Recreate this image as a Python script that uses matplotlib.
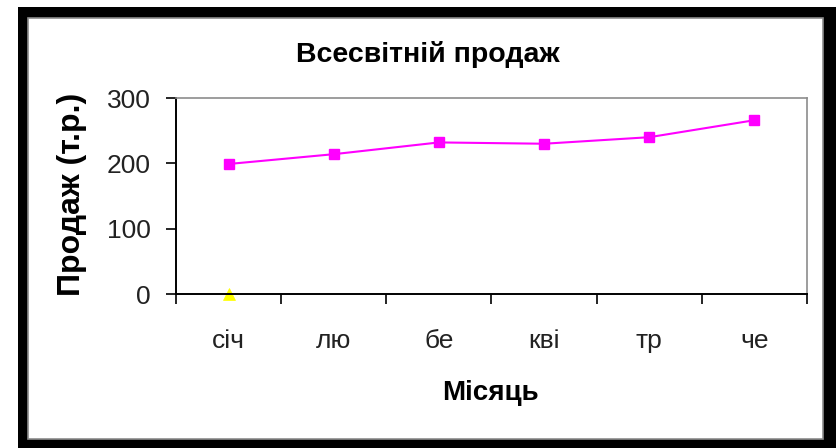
import matplotlib.pyplot as plt
from matplotlib.patches import Rectangle
from matplotlib.ticker import FixedLocator, NullFormatter
import numpy as np

plt.rcParams['font.family'] = ['Liberation Sans', 'DejaVu Sans']

# дані
months = ['січ', 'лю', 'бе', 'кві', 'тр', 'че']
sales = [199, 214, 232, 230, 240, 266]
zero_series = [0]

fig = plt.figure(figsize=(8.36, 4.48), dpi=100)
fig.patch.set_facecolor('white')

# чорна рамка навколо діаграми
W, H = 836, 448
fig.patches.append(Rectangle((18 / W, 0), (W - 18) / W, (H - 7) / H,
                             transform=fig.transFigure, facecolor='black',
                             edgecolor='none', zorder=-3))
fig.patches.append(Rectangle((28 / W, 9 / H), (823 - 28) / W, (439 - 18) / H,
                             transform=fig.transFigure, facecolor='white',
                             edgecolor='#8c8c8c', linewidth=1.2, zorder=-2))

ax = fig.add_axes([176 / W, 1 - 294 / H, (807 - 176) / W, (294 - 98) / H])
ax.set_facecolor('white')

x = np.arange(len(months))
ax.plot(x, sales, color='#ff00ff', linewidth=1.5, marker='s',
        markersize=6.5, markerfacecolor='#ff00ff', markeredgecolor='#ff00ff')
ax.plot(x[:len(zero_series)], zero_series, linestyle='none', marker='^',
        markersize=8.5, markerfacecolor='#ffff00', markeredgecolor='#ffff00',
        markeredgewidth=0.5, clip_on=False, zorder=2)

ax.set_xlim(-0.5, len(months) - 0.5)
ax.set_ylim(0, 300)
ax.set_yticks([0, 100, 200, 300])

# поділки між категоріями, підписи по центру
ax.xaxis.set_major_locator(FixedLocator(np.arange(-0.5, len(months), 1.0)))
ax.xaxis.set_major_formatter(NullFormatter())
ax.xaxis.set_minor_locator(FixedLocator(x))
ax.set_xticklabels(months, minor=True)
ax.tick_params(axis='x', which='major', length=7.5, width=1.2, color='black',
               direction='out')
ax.tick_params(axis='x', which='minor', length=0, pad=25, labelsize=19,
               labelcolor='#222222')
ax.tick_params(axis='y', length=7.5, width=1.2, color='black', direction='out',
               pad=10.5, labelsize=19, labelcolor='#222222')

for side in ('top', 'right'):
    ax.spines[side].set_color('#8c8c8c')
    ax.spines[side].set_linewidth(1.2)
for side in ('left', 'bottom'):
    ax.spines[side].set_color('black')
    ax.spines[side].set_linewidth(1.4)

fig.text(428 / W, 1 - 55 / H, 'Всесвітній продаж', ha='center', va='center',
         fontsize=20.5, fontweight='bold')
fig.text(490 / W, 1 - 393 / H, 'Місяць', ha='center', va='center',
         fontsize=20, fontweight='bold')
fig.text(72 / W, 1 - 194 / H, 'Продаж (т.р.)', ha='center', va='center',
         rotation=90, fontsize=23, fontweight='bold')

fig.savefig('out.png', dpi=100, facecolor=fig.get_facecolor())
